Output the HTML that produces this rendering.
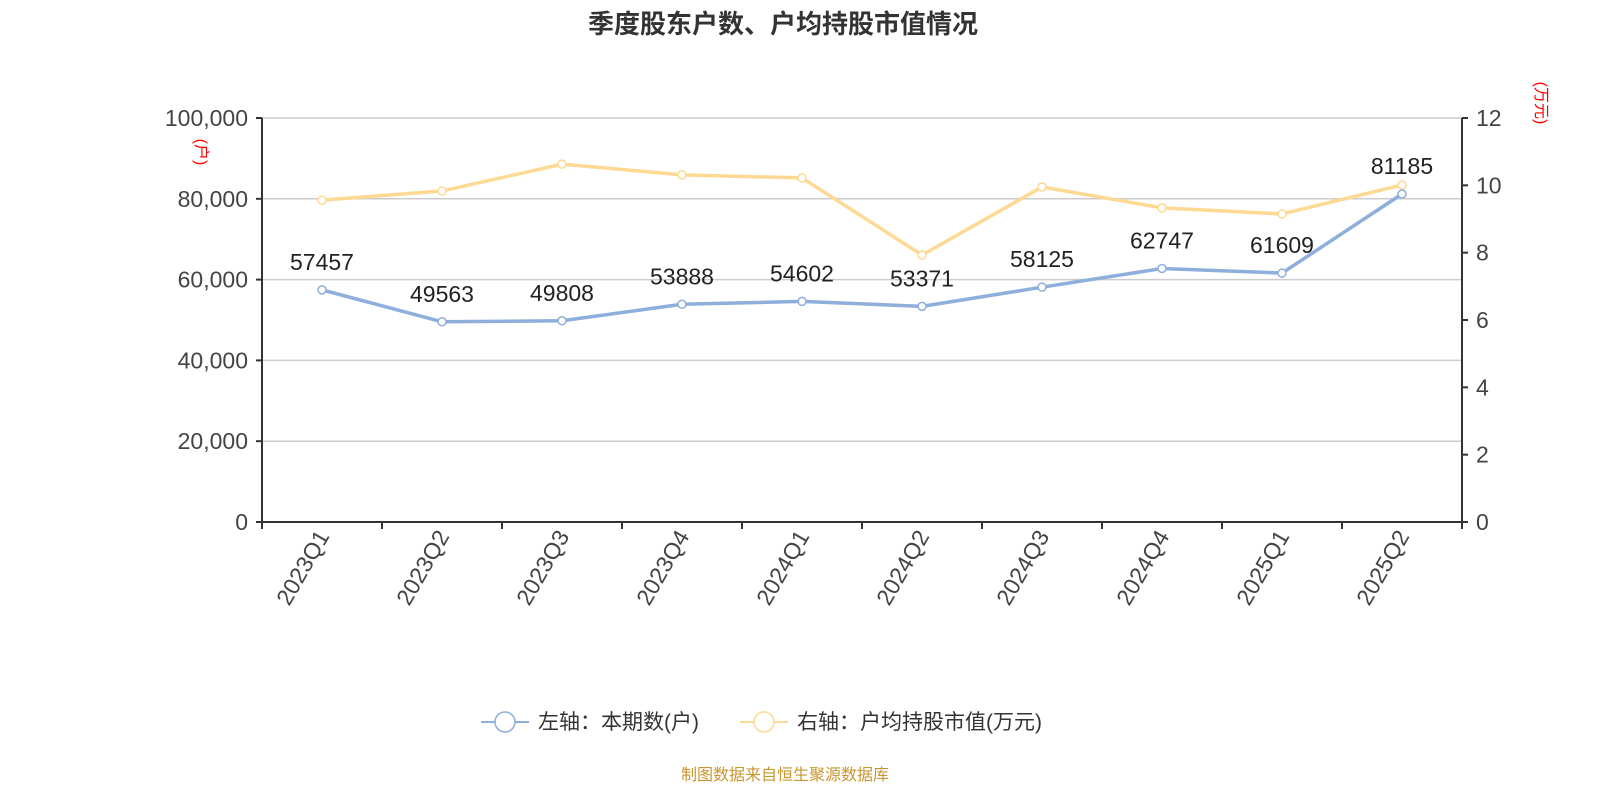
<!DOCTYPE html>
<html><head><meta charset="utf-8"><style>
body{margin:0;background:#fff;width:1600px;height:800px;overflow:hidden;font-family:"Liberation Sans","Noto Sans CJK SC",sans-serif}
</style></head><body>
<svg id="c" width="1600" height="800" xmlns="http://www.w3.org/2000/svg" font-family="Liberation Sans, Noto Sans CJK SC, sans-serif">
<text x="783" y="33" text-anchor="middle" font-size="26" font-weight="bold" fill="#333">季度股东户数、户均持股市值情况</text>
<g id="grid"></g><g id="axes"></g><g id="series"></g>
<text transform="translate(196,152) rotate(90)" text-anchor="middle" font-size="16" fill="#f00">(户)</text>
<text transform="translate(1536,103) rotate(90)" text-anchor="middle" font-size="16" fill="#f00">(万元)</text>
<g>
<g>
<line x1="481" y1="722" x2="529" y2="722" stroke="#8eaedb" stroke-width="2"/><circle cx="505" cy="722" r="10" fill="#fff" stroke="#8eaedb" stroke-width="1.5"/>
<text x="538" y="729" font-size="21" fill="#333">左轴：本期数(户)</text></g>
<g>
<line x1="740" y1="722" x2="788" y2="722" stroke="#fdd994" stroke-width="2"/><circle cx="764" cy="722" r="10" fill="#fff" stroke="#fdd994" stroke-width="1.5"/>
<text x="797" y="729" font-size="21" fill="#333">右轴：户均持股市值(万元)</text></g>
</g>
<text x="785" y="780" text-anchor="middle" font-size="16" fill="#c8962e">制图数据来自恒生聚源数据库</text>
</svg>
<script>
const categories=["2023Q1","2023Q2","2023Q3","2023Q4","2024Q1","2024Q2","2024Q3","2024Q4","2025Q1","2025Q2"];
const households=[57457,49563,49808,53888,54602,53371,58125,62747,61609,81185];
const avgValue=[9.56,9.83,10.63,10.31,10.22,7.93,9.95,9.33,9.15,10.01];
const leftTicks=[0,20000,40000,60000,80000,100000];
const leftTickLabels=["0","20,000","40,000","60,000","80,000","100,000"];
const rightTicks=[0,2,4,6,8,10,12];
const NS="http://www.w3.org/2000/svg";
const X0=262,X1=1462,Y0=522,Y1=118;
const bw=(X1-X0)/categories.length;
const xs=i=>X0+bw*(i+0.5);
const yL=v=>Y0-(v/100000)*(Y0-Y1);
const yR=v=>Y0-(v/12)*(Y0-Y1);
function mk(t,a,p){const e=document.createElementNS(NS,t);for(const k in a)e.setAttribute(k,a[k]);p.appendChild(e);return e;}
const grid=document.getElementById('grid'),axes=document.getElementById('axes'),ser=document.getElementById('series');
leftTicks.forEach((v,i)=>{const y=yL(v);
 if(v>0){const g=mk('line',{x1:X0,x2:X1,y1:y,y2:y,stroke:'#ccc','stroke-width':1.5},grid);}
 mk('line',{x1:X0-6,x2:X0,y1:y,y2:y,stroke:'#333','stroke-width':2},axes);
 const t=mk('text',{x:X0-14,y:y+8,'text-anchor':'end','font-size':23,fill:'#444'},axes);t.textContent=leftTickLabels[i];
 });
rightTicks.forEach(v=>{const y=yR(v);
 mk('line',{x1:X1,x2:X1+6,y1:y,y2:y,stroke:'#333','stroke-width':2},axes);
 const t=mk('text',{x:X1+14,y:y+8,'font-size':23,fill:'#444'},axes);t.textContent=v;
 });
let a=mk('line',{x1:X0,x2:X0,y1:Y1,y2:Y0,stroke:'#333','stroke-width':2},axes);
a=mk('line',{x1:X1,x2:X1,y1:Y1,y2:Y0,stroke:'#333','stroke-width':2},axes);
a=mk('line',{x1:X0,x2:X1,y1:Y0,y2:Y0,stroke:'#333','stroke-width':2},axes);
for(let i=0;i<=categories.length;i++){const x=X0+bw*i;mk('line',{x1:x,x2:x,y1:Y0,y2:Y0+7,stroke:'#333','stroke-width':2},axes);}
categories.forEach((c,i)=>{const x=xs(i);const t=mk('text',{transform:`translate(${x+8},${Y0+14}) rotate(-60)`,'text-anchor':'end','font-size':23,fill:'#444'},axes);t.textContent=c;
 });
function line(vals,yf,color,name){
 const p=mk('polyline',{points:vals.map((v,i)=>xs(i)+','+yf(v)).join(' '),fill:'none',stroke:color,'stroke-width':3.5,'stroke-linejoin':'round'},ser);
 
 vals.forEach((v,i)=>{const c=mk('circle',{cx:xs(i),cy:yf(v),r:4,fill:'#fff',stroke:color,'stroke-width':1.5},ser);
  });
}
line(avgValue,yR,'#fdd994','avg-value');
line(households,yL,'#8eaedb','households');
households.forEach((v,i)=>{const t=mk('text',{x:xs(i),y:yL(v)-20,'text-anchor':'middle','font-size':23,fill:'#222'},ser);t.textContent=v;
 });
</script>
</body></html>
